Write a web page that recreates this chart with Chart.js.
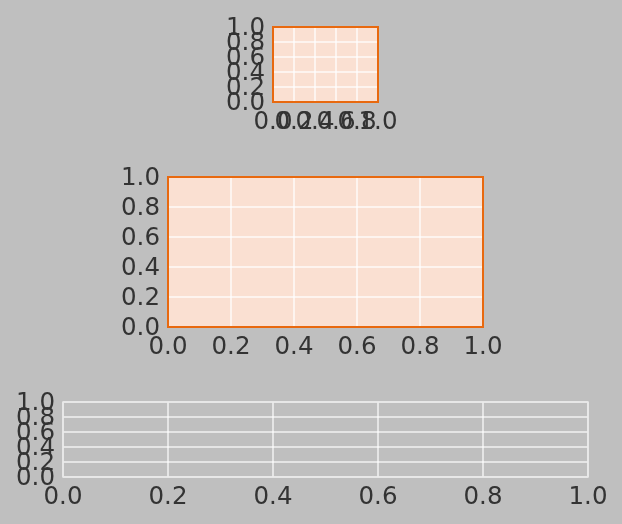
<!DOCTYPE html>
<html>
<head>
<meta charset="utf-8">
<script src="https://cdn.jsdelivr.net/npm/chart.js@4.4.0/dist/chart.umd.min.js"></script>
<style>
  html, body { margin: 0; padding: 0; background: #bfbfbf; }
  #wrap { position: relative; width: 622px; height: 524px; overflow: hidden; }
  #wrap canvas { position: absolute; left: 0; top: 0; }
</style>
</head>
<body>
<div id="wrap">
  <canvas id="top" width="622" height="524"></canvas>
  <canvas id="middle" width="622" height="524"></canvas>
  <canvas id="bottom" width="622" height="524"></canvas>
</div>
<script>
// tick values shared by the three empty axes
const xTicks = [0, 0.2, 0.4, 0.6, 0.8, 1.0];
const yTicks = [0, 0.2, 0.4, 0.6, 0.8, 1.0];

// plot boxes in page pixels: left, top, right, bottom
const panels = [
    { id: 'top',    box: [273, 27, 378, 102],  face: '#fae0d2', edge: '#e8690f', edgeWidth: 2, grid: 'rgba(255,255,255,0.65)' },
    { id: 'middle', box: [168, 177, 483, 327], face: '#fae0d2', edge: '#e8690f', edgeWidth: 2, grid: 'rgba(255,255,255,0.65)' },
    { id: 'bottom', box: [63, 402, 588, 477],  face: null,      edge: '#e8e8e8', edgeWidth: 1.5, grid: 'rgba(255,255,255,0.6)' }
];

const Y_AXIS_W = 62;
const X_AXIS_H = 40;

// fills the plot face and strokes the frame round it
const framePlugin = {
    id: 'frame',
    beforeDraw(chart, args, opts) {
        const a = chart.chartArea;
        if (opts.face) {
            chart.ctx.save();
            chart.ctx.fillStyle = opts.face;
            chart.ctx.fillRect(a.left, a.top, a.right - a.left, a.bottom - a.top);
            chart.ctx.restore();
        }
    },
    afterDraw(chart, args, opts) {
        const a = chart.chartArea;
        const ctx = chart.ctx;
        ctx.save();
        ctx.strokeStyle = opts.edge;
        ctx.lineWidth = opts.edgeWidth;
        ctx.strokeRect(a.left, a.top, a.right - a.left, a.bottom - a.top);
        ctx.restore();
    }
};

const tickFont = { family: '"DejaVu Sans", sans-serif', size: 24.5 };

panels.forEach(p => {
    const [l, t, r, b] = p.box;
    new Chart(document.getElementById(p.id), {
        type: 'scatter',
        data: { datasets: [{ data: [] }] },
        options: {
            responsive: false,
            animation: false,
            layout: {
                padding: { left: l - Y_AXIS_W, top: t, right: 622 - r, bottom: 524 - b - X_AXIS_H }
            },
            plugins: {
                legend: { display: false },
                tooltip: { enabled: false },
                frame: { face: p.face, edge: p.edge, edgeWidth: p.edgeWidth }
            },
            scales: {
                x: {
                    type: 'linear',
                    min: 0,
                    max: 1,
                    afterBuildTicks(scale) { scale.ticks = xTicks.map(v => ({ value: v })); },
                    afterFit(scale) { scale.height = X_AXIS_H; },
                    border: { display: false },
                    grid: { color: p.grid, lineWidth: 2, drawTicks: false },
                    ticks: {
                        autoSkip: false,
                        maxRotation: 0,
                        minRotation: 0,
                        padding: 6,
                        color: '#333333',
                        font: tickFont,
                        callback: v => Number(v).toFixed(1)
                    }
                },
                y: {
                    type: 'linear',
                    min: 0,
                    max: 1,
                    afterBuildTicks(scale) { scale.ticks = yTicks.map(v => ({ value: v })); },
                    afterFit(scale) { scale.width = Y_AXIS_W; },
                    border: { display: false },
                    grid: { color: p.grid, lineWidth: 2, drawTicks: false },
                    ticks: {
                        autoSkip: false,
                        padding: 8,
                        labelOffset: 1.5,
                        color: '#333333',
                        font: tickFont,
                        callback: v => Number(v).toFixed(1)
                    }
                }
            }
        },
        plugins: [framePlugin]
    });
});
</script>
</body>
</html>
